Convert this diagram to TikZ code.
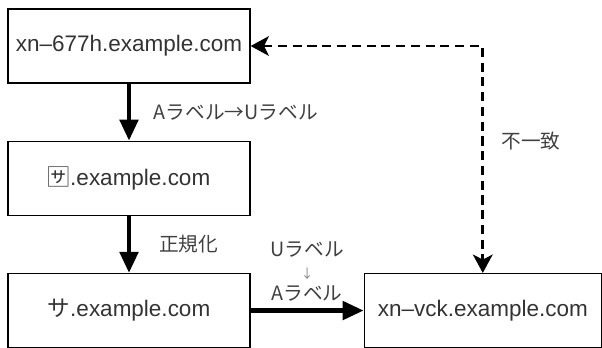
\documentclass[tikz,border=0pt]{standalone}
\usepackage{fontspec}
\setmainfont{Liberation Sans}
\newfontfamily\jp{Noto Sans CJK JP}
\usetikzlibrary{positioning,arrows.meta}

\tikzset{lbl/.style={font=\jp\fontsize{14}{15.6}\selectfont, text=black!75}}
\tikzset{solidarr/.style={line width=3.2pt, -{Triangle[width=13pt,length=15pt]}}}
\tikzset{dasharr/.style={line width=1.9pt, dash pattern=on 6.5pt off 4pt, {Stealth[width=14pt,length=13pt,inset=3.5pt]}-{Stealth[width=14pt,length=13pt,inset=3.5pt]}}}

\begin{document}
\begin{tikzpicture}[node distance={1.425cm and 2.825cm},main/.style={draw, line width=0.9pt, minimum width=6.05cm, minimum height=1.85cm, font=\fontsize{16}{19}\selectfont, text=black!80}]
    \useasboundingbox (0,0) rectangle (15.05,-8.675);

    \node[main] (0) at (3.225,-1.15) {xn–677h.example.com};
    \node[main] (1) [below=of 0] {{\jp 🈂}.example.com};
    \node[main] (2) [below=of 1] {{\jp サ}.example.com};
    \node[main, minimum width=5.925cm] (3) [right=of 2] {xn–vck.example.com};

    \draw[solidarr] (0) -- (1) node[midway, right=0.45cm, lbl] {Aラベル→Uラベル};
    \draw[solidarr] (1) -- (2) node[midway, right=0.58cm, lbl] {正規化};
    \draw[solidarr] (2) -- (3) node[midway, above=0.05cm, lbl, align=center] {Uラベル\\{\color{black!50}\small ↓}\\Aラベル};
    \draw[dasharr] (0) -| (3) node[pos=0.71, right=0.32cm, lbl] {不一致};
\end{tikzpicture}
\end{document}
